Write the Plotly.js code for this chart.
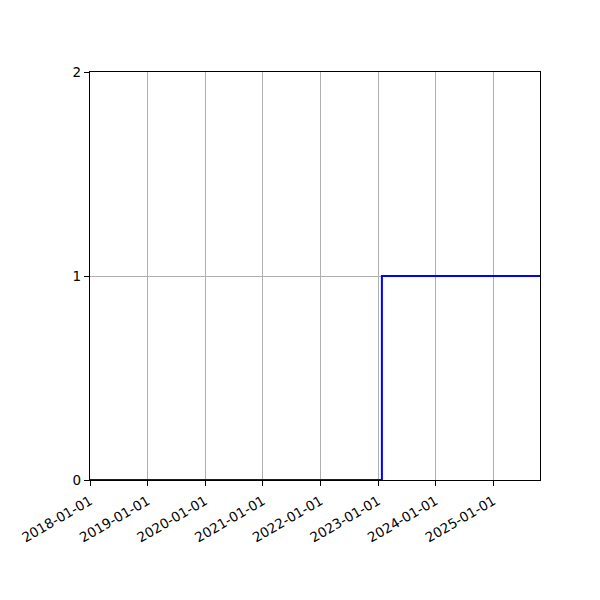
<!DOCTYPE html>
<html>
<head>
<meta charset="utf-8">
<script src="https://cdn.plot.ly/plotly-3.0.1.min.js"></script>
<style>
  html, body { margin: 0; padding: 0; background: #fff; }
  #chart { width: 600px; height: 600px; }
</style>
</head>
<body>
<div id="chart"></div>
<script>
// step series: 0 until early 2023, then 1
var dates = ['2018-01-01', '2023-01-25', '2025-10-23'];
var values = [0, 1, 1];
var xTicks = ['2018-01-01', '2019-01-01', '2020-01-01', '2021-01-01',
              '2022-01-01', '2023-01-01', '2024-01-01', '2025-01-01'];
var yTicks = [0, 1, 2];

var trace = {
  type: 'scatter',
  mode: 'lines',
  x: dates,
  y: values,
  line: { shape: 'hv', color: '#0000ff', width: 2 },
  hoverinfo: 'none'
};

var axisCommon = {
  showline: true,
  linecolor: '#000',
  linewidth: 1.2,
  mirror: true,
  ticks: 'outside',
  ticklen: 5,
  tickwidth: 1,
  tickcolor: '#000',
  showgrid: true,
  gridcolor: '#b0b0b0',
  gridwidth: 1,
  zeroline: false,
  tickfont: { family: 'DejaVu Sans', size: 13.5, color: '#000' }
};

var layout = {
  width: 600,
  height: 600,
  margin: { l: 90, r: 60, t: 72, b: 120, pad: 0 },
  paper_bgcolor: '#fff',
  plot_bgcolor: '#fff',
  showlegend: false,
  xaxis: Object.assign({}, axisCommon, {
    type: 'date',
    range: [dates[0], dates[dates.length - 1]],
    tickmode: 'array',
    tickvals: xTicks,
    ticktext: xTicks,
    tickangle: -30,
    ticklabelstandoff: 2
  }),
  yaxis: Object.assign({}, axisCommon, {
    range: [0, 2],
    tickmode: 'array',
    tickvals: yTicks,
    ticktext: yTicks.map(String)
  })
};

Plotly.newPlot('chart', [trace], layout, { displayModeBar: false, staticPlot: true });
</script>
</body>
</html>
